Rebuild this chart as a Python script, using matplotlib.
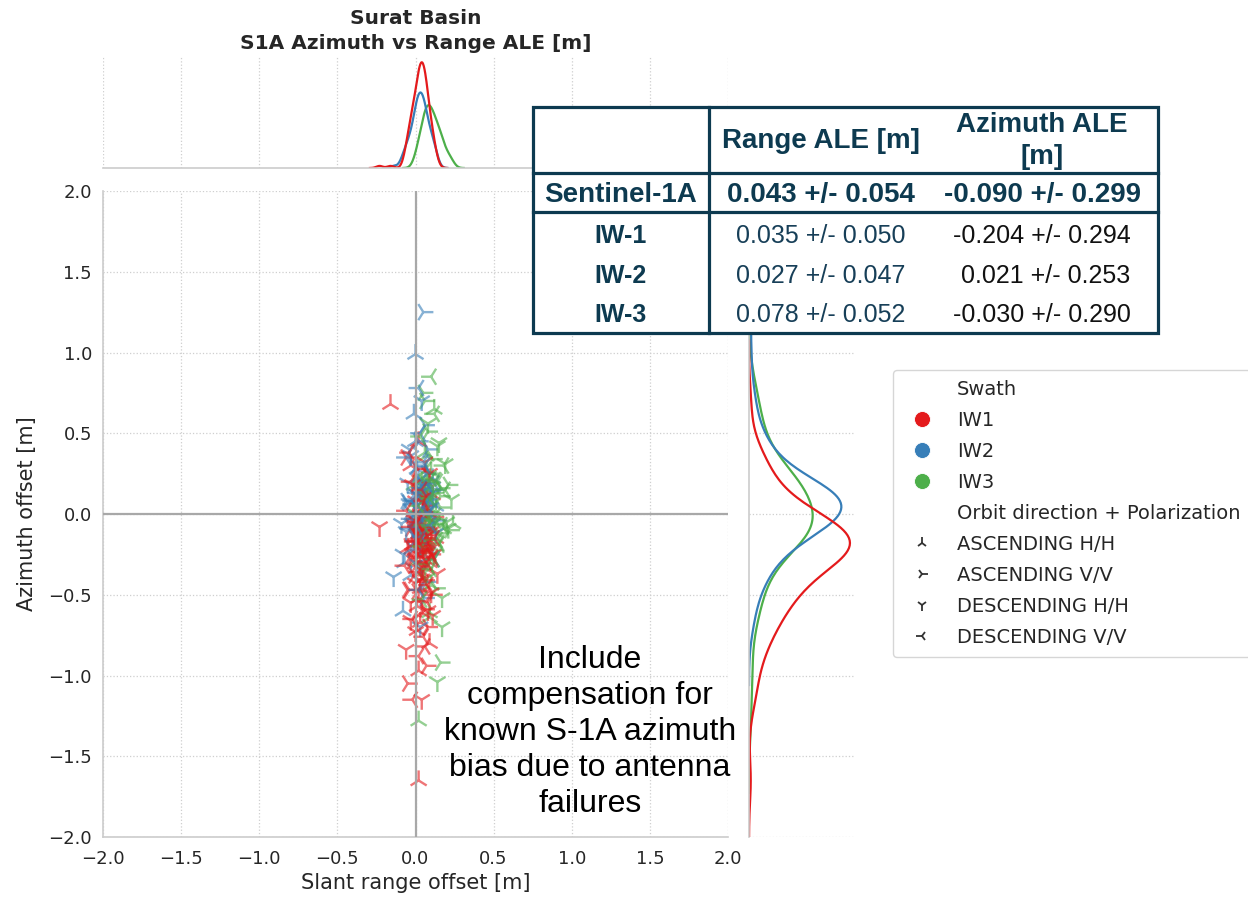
import numpy as np
import pandas as pd
import matplotlib
matplotlib.use("Agg")
import matplotlib.pyplot as plt
from matplotlib.lines import Line2D
from matplotlib.patches import Rectangle
import seaborn as sns

swaths = ["IW1", "IW2", "IW3"]
swath_colors = ["#e41a1c", "#377eb8", "#4daf4a"]
orbits = ["ASCENDING H/H", "ASCENDING V/V", "DESCENDING H/H", "DESCENDING V/V"]
orbit_codes = "abcd"
orbit_markers = ["2", "4", "1", "3"]

# slant range / azimuth offsets [m]
rng_iw1 = [-0.16, -0.23, -0.05, -0.02, 0.04, 0.02, 0.07,
           0.02, -0.04, 0.06, 0.01, 0.09, -0.02, 0.04, 0.11, 0.00, 0.05, -0.06, 0.03, 0.08,
           0.01, 0.06, -0.03, 0.10, 0.04, 0.02, 0.13, -0.01, 0.07, 0.03,
           0.05, -0.05, 0.08, 0.02, 0.00, 0.12, 0.04, -0.02, 0.06, 0.03,
           0.09, 0.01, -0.07, 0.05, 0.07, 0.02, 0.14, -0.01, 0.04, 0.06,
           0.00, 0.08, 0.03, -0.04, 0.10, 0.05, 0.02, 0.07, -0.03, 0.01,
           0.06, 0.04, 0.11, -0.02, 0.03, 0.08, 0.00, 0.05, 0.09, -0.06,
           0.02, 0.07, 0.04, -0.01, 0.03, 0.06, 0.01, 0.05, -0.03, 0.12,
           0.03, 0.08, -0.01, 0.05, 0.10, 0.01, 0.06, -0.03, 0.04, 0.09,
           0.00, 0.07, 0.02, -0.04, 0.11, 0.03, 0.05, -0.01, 0.06, 0.02,
           0.08, -0.02, 0.04, 0.12, 0.01, 0.06, -0.02, 0.07, 0.03, 0.05,
           -0.03, 0.09, 0.02, 0.06, 0.00, 0.10, 0.04, -0.05, 0.08, 0.01,
           0.05, -0.01, 0.07, 0.03, 0.11, -0.03, 0.06, 0.04, 0.02, -0.06]
az_iw1 = [0.68, -0.08, -1.05, -1.15, -1.15, -1.65, -0.94,
          0.45, 0.38, 0.32, 0.28, 0.22, 0.18, 0.15, 0.12, 0.08, 0.05, 0.02, -0.01, -0.03,
          -0.05, -0.07, -0.09, -0.11, -0.12, -0.14, -0.15, -0.17, -0.18, -0.19,
          -0.20, -0.21, -0.22, -0.23, -0.24, -0.25, -0.26, -0.27, -0.28, -0.29,
          -0.30, -0.31, -0.32, -0.33, -0.34, -0.36, -0.37, -0.38, -0.40, -0.41,
          -0.43, -0.44, -0.46, -0.47, -0.49, -0.50, -0.52, -0.54, -0.55, -0.57,
          -0.59, -0.61, -0.63, -0.65, -0.67, -0.70, -0.73, -0.76, -0.80, -0.84,
          -0.88, -0.13, -0.16, -0.06, -0.35, -0.42, -0.48, 0.10, 0.30, -0.02,
          -0.10, -0.18, -0.14, -0.21, -0.25, -0.12, -0.19, -0.08, -0.16, -0.23,
          -0.05, -0.11, -0.17, -0.20, -0.27, -0.02, 0.03, -0.04, 0.04, 0.14,
          -0.13, -0.19, -0.22, -0.15, -0.09, -0.24, -0.29, -0.07, 0.00, 0.08,
          0.20, 0.25, -0.01, -0.08, -0.15, -0.24, -0.35, -0.47, -0.60, -0.72,
          -0.16, -0.23, -0.30, -0.41, -0.50, -0.66, -0.82, 0.07, -0.97, 0.35]
orb_iw1 = ("acbdcabadc" "bacdacbdca" "dabcbcadab" "cadbacdbca"
           "abdcadcbab" "cdabcbadca" "bacdabcdac" "dbacadbcab"
           "bdacbcadbd" "acdbdbacab" "cabdcdbacd" "dcabadcbca" "badcbcdaab")

rng_iw2 = [0.05, 0.00, -0.14,
           0.02, 0.04, -0.01, 0.06, 0.03, 0.00, 0.08, -0.03, 0.05, 0.01,
           0.07, 0.02, -0.05, 0.04, 0.10, 0.01, 0.03, -0.02, 0.06, 0.00,
           0.05, 0.09, -0.04, 0.02, 0.04, 0.07, -0.01, 0.03, 0.11, 0.01,
           0.06, -0.06, 0.02, 0.04, 0.00, 0.08, 0.03, -0.02, 0.05, 0.12,
           0.01, 0.04, -0.03, 0.07, 0.02, 0.06, -0.08, 0.03, 0.05, 0.00,
           0.09, 0.02, -0.01, 0.04, 0.06, 0.03, 0.01,
           0.01, 0.09, -0.06, 0.03, 0.12, -0.03, 0.06, -0.08, 0.10, 0.02,
           0.13, -0.04, 0.05, 0.08, -0.02, 0.11, -0.07, 0.14, 0.00, 0.07,
           -0.05, 0.04, 0.10, -0.01, 0.06, -0.09, 0.12, 0.02, 0.08, -0.03,
           0.09, -0.06, 0.04, 0.13, 0.00, 0.07, -0.04, 0.05, 0.11, 0.01]
az_iw2 = [1.25, 0.99, -0.39,
          0.78, 0.70, 0.62, 0.55, 0.50, 0.45, 0.40, 0.36, 0.32, 0.28,
          0.25, 0.22, 0.19, 0.16, 0.14, 0.12, 0.10, 0.08, 0.06, 0.05,
          0.03, 0.02, 0.01, 0.00, -0.01, -0.02, -0.04, -0.05, -0.06, -0.08,
          -0.09, -0.11, -0.12, -0.14, -0.16, -0.18, -0.20, -0.22, -0.25, -0.28,
          -0.31, -0.34, -0.38, -0.42, -0.47, -0.52, -0.60, -0.70, 0.04, -0.03,
          0.07, 0.11, -0.07, 0.18, 0.30, -0.15, 0.13,
          0.12, 0.08, 0.35, 0.21, 0.15, 0.09, 0.03, -0.25, -0.07, -0.13,
          0.05, 0.40, 0.10, 0.18, 0.06, 0.13, -0.30, -0.04, -0.10, 0.24,
          0.07, 0.16, 0.04, -0.01, 0.11, -0.06, 0.19, 0.45, 0.09, -0.03,
          0.01, 0.08, 0.15, -0.12, 0.29, -0.21, -0.09, 0.14, 0.22, -0.05]
orb_iw2 = ("bacdcabdab" "cdabacdbca" "dbcaabdcab" "acdbcadbac"
           "badccabdba" "cdbaacbdcd"
           "cadbbdacdb" "acbddcabca" "bdcaacdbbd" "dbacbadcac")

rng_iw3 = [0.14, 0.02, 0.16,
           0.10, 0.05, 0.12, 0.08, 0.03, 0.14, 0.07, 0.18, 0.09, 0.04,
           0.11, 0.06, 0.16, 0.08, 0.02, 0.13, 0.07, 0.10, 0.20, 0.05,
           0.09, 0.12, 0.03, 0.08, 0.15, 0.06, 0.11, 0.01, 0.10, 0.07,
           0.13, 0.04, 0.09, 0.17, 0.06, 0.08, 0.12, 0.05, 0.10, 0.22,
           0.07, 0.09,
           0.12, 0.08, 0.15, 0.06, 0.19, 0.10, 0.13, 0.04, 0.09, 0.16,
           0.07, 0.11, 0.05, 0.14, 0.08, 0.12, 0.06, 0.10, 0.17, 0.09,
           0.21, 0.05, 0.13, 0.18, 0.07, 0.11, 0.15, 0.23, 0.08, 0.06,
           0.01, 0.15, 0.19, 0.03, -0.01, 0.17, 0.12, 0.21, 0.02, 0.14,
           0.00, 0.24, 0.04, 0.16, 0.11]
az_iw3 = [-1.04, -1.28, -0.92,
          0.85, 0.75, 0.65, 0.56, 0.48, 0.42, 0.36, 0.30, 0.25, 0.20,
          0.17, 0.14, 0.11, 0.08, 0.05, 0.02, -0.01, -0.03, -0.05, -0.07,
          -0.09, -0.11, -0.13, -0.15, -0.18, -0.21, -0.25, -0.29, -0.34, -0.40,
          -0.46, -0.53, -0.61, -0.70, 0.19, 0.15, -0.06, -0.08, 0.22, -0.10,
          0.12, -0.02,
          0.62, 0.51, 0.44, 0.38, 0.31, 0.26, 0.21, 0.16, 0.10, 0.04,
          -0.02, -0.06, -0.11, -0.16, -0.22, -0.28, -0.36, -0.44, -0.52, -0.64,
          0.18, 0.13, -0.04, -0.09, 0.27, 0.34, -0.19, 0.09, -0.31, 0.70,
          -0.08, -0.12, 0.15, -0.10, 0.18, -0.07, 0.13, -0.09, -0.16, 0.20,
          0.00, -0.06, -0.20, 0.16, 0.02]
orb_iw3 = ("cabdbacdca" "dbacabcdab" "bcdaacbdbc" "adcbdacbab" "cdbac"
           "dbcacadbdb" "acbdbdcaca" "bcdaabdcdb" "abdcadbcbd" "cadba")

# summary table
tab_cols = ["", "Range ALE [m]", "Azimuth ALE\n[m]"]
tab_total = ["Sentinel-1A", "0.043 +/- 0.054", "-0.090 +/- 0.299"]
tab_rows = ["IW-1", "IW-2", "IW-3"]
tab_range = ["0.035 +/- 0.050", "0.027 +/- 0.047", "0.078 +/- 0.052"]
tab_azimuth = ["-0.204 +/- 0.294", " 0.021 +/- 0.253", "-0.030 +/- 0.290"]

note = "Include\ncompensation for\nknown S-1A azimuth\nbias due to antenna\nfailures"

df = pd.DataFrame({
    "rng": rng_iw1 + rng_iw2 + rng_iw3,
    "az": az_iw1 + az_iw2 + az_iw3,
    "orbit": list(orb_iw1) + list(orb_iw2) + list(orb_iw3),
    "swath": ["IW1"] * len(rng_iw1) + ["IW2"] * len(rng_iw2) + ["IW3"] * len(rng_iw3),
})

W, H = 1248, 900
fig = plt.figure(figsize=(W / 100, H / 100), dpi=100)
ax = fig.add_axes([103 / W, 1 - 837 / H, 625 / W, 646 / H])
ax_top = fig.add_axes([103 / W, 1 - 168 / H, 625 / W, 111 / H])
ax_right = fig.add_axes([749 / W, 1 - 837 / H, 106 / W, 646 / H])

gridkw = dict(color="#cfcfcf", linestyle=":", linewidth=0.9)
txtc = "#262626"
edge = "#cccccc"

# scatter: one collection per orbit style, swaths mixed
draw_order = ["IW2", "IW3", "IW1"]
for code, mk in zip(orbit_codes, orbit_markers):
    sub = pd.concat([df[(df.swath == s) & (df.orbit == code)] for s in draw_order])
    cols = [swath_colors[swaths.index(s)] for s in sub.swath]
    ax.scatter(sub.rng, sub.az, c=cols, marker=mk, s=210, linewidths=1.7,
               alpha=0.6, zorder=2)

ax.axhline(0, color="#a8a8a8", lw=1.6, zorder=3)
ax.axvline(0, color="#a8a8a8", lw=1.6, zorder=3)

sns.kdeplot(data=df, x="rng", hue="swath", hue_order=swaths, palette=swath_colors,
            ax=ax_top, legend=False, linewidth=1.6, common_norm=True)
sns.kdeplot(data=df, y="az", hue="swath", hue_order=swaths, palette=swath_colors,
            ax=ax_right, legend=False, linewidth=1.6, common_norm=True)

ticks = np.arange(-2, 2.01, 0.5)
ax.set_xlim(-2, 2)
ax.set_ylim(-2, 2)
ax.set_xticks(ticks)
ax.set_yticks(ticks)
ax.grid(True, **gridkw)
ax.set_axisbelow(True)
ax.tick_params(axis="x", length=0, pad=9, labelsize=13, labelcolor=txtc)
ax.tick_params(axis="y", length=0, pad=8, labelsize=13, labelcolor=txtc)
ax.set_xlabel("Slant range offset [m]", fontsize=15, color=txtc, labelpad=4)
ax.set_ylabel("Azimuth offset [m]", fontsize=15, color=txtc, labelpad=8)
for side in ["top", "right"]:
    ax.spines[side].set_visible(False)
for side in ["left", "bottom"]:
    ax.spines[side].set_color(edge)
    ax.spines[side].set_linewidth(1.2)

ax_top.set_xlim(-2, 2)
ax_top.set_ylim(bottom=0)
ax_top.set_xticks(ticks)
ax_top.xaxis.grid(True, **gridkw)
ax_top.yaxis.grid(False)
ax_top.set_axisbelow(True)
ax_top.tick_params(length=0, labelbottom=False, labelleft=False)
ax_top.set_yticks([])
ax_top.set_xlabel("")
ax_top.set_ylabel("")
for side in ["top", "right", "left"]:
    ax_top.spines[side].set_visible(False)
ax_top.spines["bottom"].set_color(edge)
ax_top.spines["bottom"].set_linewidth(1.2)

ax_right.set_ylim(-2, 2)
ax_right.set_xlim(left=0)
ax_right.set_yticks(ticks)
ax_right.yaxis.grid(True, **gridkw)
ax_right.xaxis.grid(False)
ax_right.set_axisbelow(True)
ax_right.tick_params(length=0, labelbottom=False, labelleft=False)
ax_right.set_xticks([])
ax_right.set_xlabel("")
ax_right.set_ylabel("")
for side in ["top", "right", "bottom"]:
    ax_right.spines[side].set_visible(False)
ax_right.spines["left"].set_color(edge)
ax_right.spines["left"].set_linewidth(1.2)

fig.text(415.5 / W, 1 - 31 / H, "Surat Basin\nS1A Azimuth vs Range ALE [m]",
         ha="center", va="center", fontsize=14.5, fontweight="bold", color=txtc,
         linespacing=1.45)

# table drawn on its own axes in pixel units
navy = "#0d3a50"
tx0, tx1, ty0, ty1 = 533, 1158, 107, 333
tab = fig.add_axes([tx0 / W, 1 - ty1 / H, (tx1 - tx0) / W, (ty1 - ty0) / H], zorder=5)
tab.set_xlim(tx0, tx1)
tab.set_ylim(ty1, ty0)
tab.axis("off")
tab.add_patch(Rectangle((tx0, ty0), tx1 - tx0, ty1 - ty0, facecolor="white",
                        edgecolor=navy, lw=2.3, clip_on=False))
tab.plot([709, 709], [ty0, ty1], color=navy, lw=2.3, clip_on=False)
tab.plot([tx0, tx1], [173, 173], color=navy, lw=2.3, clip_on=False)
tab.plot([tx0, tx1], [212, 212], color=navy, lw=2.3, clip_on=False)
col_x = [621, 821, 1042]
tfont = "Liberation Sans"
for cx, lab in zip(col_x, tab_cols):
    tab.text(cx, 141, lab, ha="center", va="center", fontsize=20, fontweight="bold",
             color=navy, family=tfont, linespacing=1.3)
for cx, lab in zip(col_x, tab_total):
    tab.text(cx, 195, lab, ha="center", va="center", fontsize=20, fontweight="bold",
             color=navy, family=tfont)
for ry, r, rv, av in zip([236, 276, 315], tab_rows, tab_range, tab_azimuth):
    tab.text(col_x[0], ry, r, ha="center", va="center", fontsize=18, fontweight="bold",
             color=navy, family=tfont)
    tab.text(col_x[1], ry, rv, ha="center", va="center", fontsize=18,
             color="#173f58", family=tfont)
    tab.text(col_x[2], ry, av, ha="center", va="center", fontsize=18,
             color="#111111", family=tfont)

fig.text(590 / W, 1 - 732 / H, note, ha="center", va="center", fontsize=23,
         family=tfont, color="black", linespacing=1.27)

# legend with section headers
blank = Line2D([], [], linestyle="none", marker="")
handles = [blank]
labels = ["Swath"]
for s, c in zip(swaths, swath_colors):
    handles.append(Line2D([], [], linestyle="none", marker="o", markersize=11.5,
                          markerfacecolor=c, markeredgecolor="white", markeredgewidth=0.6))
    labels.append(s)
handles.append(blank)
labels.append("Orbit direction + Polarization")
for o, mk in zip(orbits, orbit_markers):
    handles.append(Line2D([], [], linestyle="none", marker=mk, markersize=8,
                          color="#333333", markeredgewidth=1.3))
    labels.append(o)
leg = fig.legend(handles, labels, loc="upper left", bbox_to_anchor=(893 / W, 1 - 370 / H),
                 fontsize=14, frameon=True, edgecolor="#cccccc", labelspacing=0.62,
                 borderpad=0.5, handlelength=2.0, handletextpad=0.8, borderaxespad=0)
for t in leg.get_texts():
    t.set_color(txtc)

fig.savefig("out.png", dpi=100)
